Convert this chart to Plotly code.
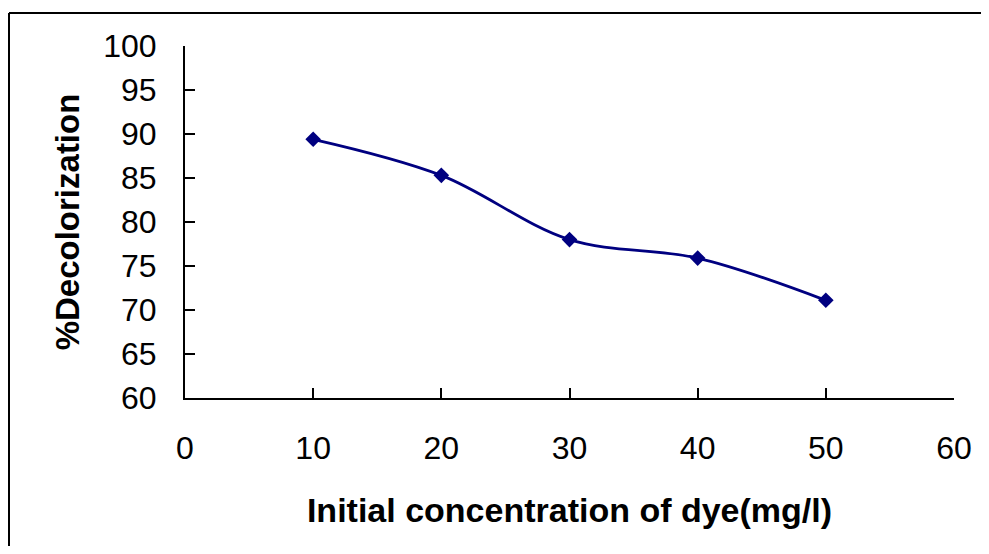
import plotly.graph_objects as go

concentration = [10, 20, 30, 40, 50]
decolorization = [89.4, 85.3, 78.0, 75.9, 71.1]
x_ticks = [0, 10, 20, 30, 40, 50, 60]
y_ticks = [60, 65, 70, 75, 80, 85, 90, 95, 100]

# page body has an 8px margin; figure coordinates are reference minus 8
OFF = 8
W, H = 989 - OFF, 554 - 2 * OFF
ML = 185 - OFF
MT = 46 - OFF
MR = W - (954 - OFF)
MB = H - (398 - OFF)
pw = W - ML - MR
ph = H - MT - MB

def px_x(p):
    return (p - OFF - ML) / pw

def px_y(p):
    return (H - MB - (p - OFF)) / ph

fig = go.Figure()
fig.add_trace(go.Scatter(
    x=concentration, y=decolorization,
    mode="lines+markers",
    line=dict(color="#000080", width=2.8, shape="spline", smoothing=1.0),
    marker=dict(symbol="diamond", size=12, color="#000080"),
    showlegend=False,
))

font_family = "Liberation Sans, Arial, sans-serif"
fig.update_layout(
    width=W, height=H,
    margin=dict(l=ML, r=MR, t=MT, b=MB),
    paper_bgcolor="white", plot_bgcolor="white",
    font=dict(family=font_family, color="black"),
    xaxis=dict(
        range=[0, 60], tickvals=x_ticks, ticks="inside", ticklen=10,
        tickwidth=2, tickcolor="black", showline=True, linecolor="black",
        linewidth=2, showgrid=False, zeroline=False,
        tickfont=dict(size=32), ticklabelstandoff=21,
        title=dict(text="<b>Initial concentration of dye(mg/l)</b>",
                   font=dict(size=34), standoff=33),
    ),
    yaxis=dict(
        range=[60, 100], tickvals=y_ticks, ticks="inside", ticklen=10,
        tickwidth=2, tickcolor="black", showline=True, linecolor="black",
        linewidth=2, showgrid=False, zeroline=False,
        tickfont=dict(size=32), ticklabelstandoff=20,
        title=dict(text="<b>%Decolorization</b>", font=dict(size=33), standoff=14),
    ),
    shapes=[
        dict(type="line", xref="paper", yref="paper",
             x0=px_x(9), x1=px_x(1010), y0=px_y(13), y1=px_y(13),
             line=dict(color="black", width=2)),
        dict(type="line", xref="paper", yref="paper",
             x0=px_x(9), x1=px_x(9), y0=px_y(13), y1=px_y(580),
             line=dict(color="black", width=2)),
    ],
)

fig.write_html("out.html")
